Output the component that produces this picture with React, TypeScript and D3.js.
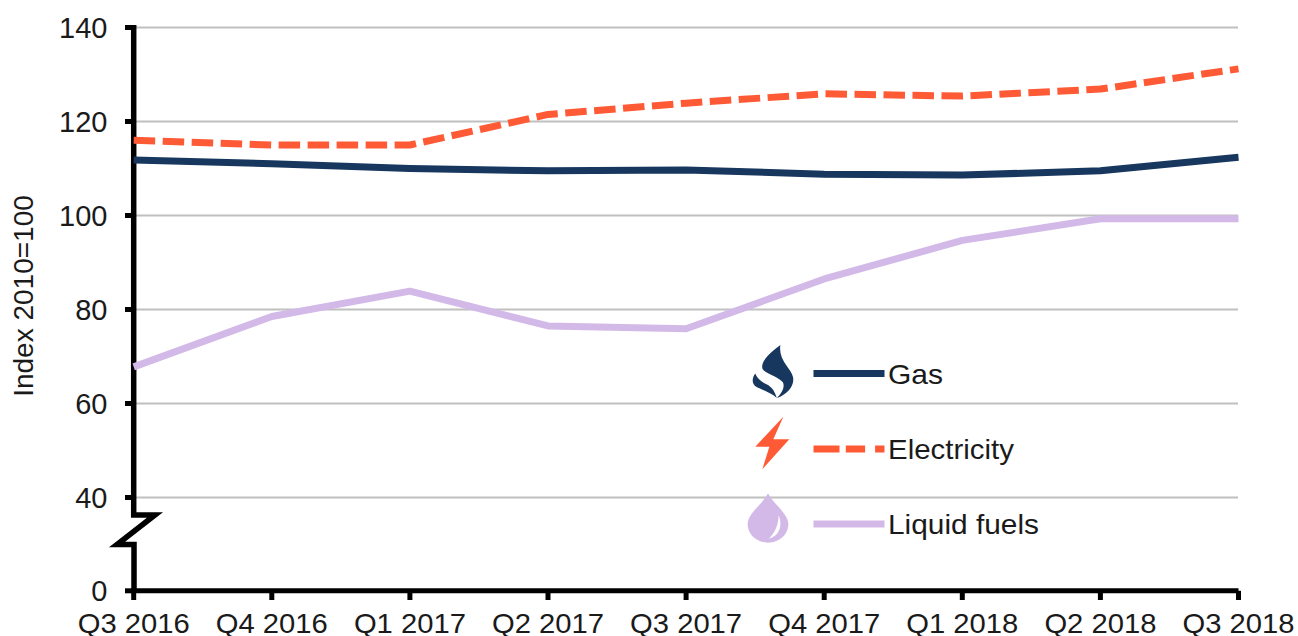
import React from "react";
import * as d3 from "d3";

const quarters = ["Q3 2016","Q4 2016","Q1 2017","Q2 2017","Q3 2017","Q4 2017","Q1 2018","Q2 2018","Q3 2018"];
const gas = [111.8,111.0,110.0,109.5,109.7,108.8,108.6,109.5,112.4];
const electricity = [116.0,115.0,115.0,121.5,123.9,125.9,125.4,126.9,131.2];
const liquidFuels = [67.8,78.5,83.9,76.5,75.9,86.5,94.7,99.3,99.3];
const yTicks = [0,40,60,80,100,120,140];
const gridTicks = [40,60,80,100,120,140];

const NAVY = "#17375e";
const ORANGE = "#ff5a36";
const LILAC = "#d3b9e8";
const FONT = "'Liberation Sans', Arial, sans-serif";
const TEXT = "#1a1a1a";

const x = d3.scalePoint<string>().domain(quarters).range([133.7, 1238.5]);
const y = d3.scaleLinear().domain([0,40,140]).range([590.8,497.5,27.5]);
const line = d3.line<number>().x((_, i) => x(quarters[i]) as number).y(d => y(d));

const series = [
  { name: "Gas", values: gas, color: NAVY, dash: undefined as string | undefined, legendDash: undefined as string | undefined, labelWidth: 55 },
  { name: "Electricity", values: electricity, color: ORANGE, dash: "21.5 7.5", legendDash: "26 6.3 19.3 10 10", labelWidth: 126 },
  { name: "Liquid fuels", values: liquidFuels, color: LILAC, dash: undefined as string | undefined, legendDash: undefined as string | undefined, labelWidth: 151 },
];
const legendY = [373.5, 449, 524];

export default function App() {
  const axisPath = `M${x(quarters[0])},${y(140)-2.5}V515H155L117,544.5H134V${y(0)}`;
  return (
    <svg width={1298} height={636} style={{position:"absolute",left:0,top:0,background:"#fff"}} fontFamily={FONT}>
      {gridTicks.map(t => (
        <line key={t} x1={136} x2={1238} y1={y(t)} y2={y(t)} stroke="#c0c0c0" strokeWidth={2}/>
      ))}
      <path d={axisPath} fill="none" stroke="#000" strokeWidth={5.5} strokeLinejoin="miter" strokeMiterlimit={6}/>
      <line x1={131} x2={1238.5} y1={y(0)} y2={y(0)} stroke="#000" strokeWidth={5}/>
      {yTicks.map(t => (
        <g key={t}>
          <line x1={125} x2={133} y1={y(t)} y2={y(t)} stroke="#000" strokeWidth={5}/>
          <text x={107.5} y={y(t)+10} textAnchor="end" fontSize={29} fill={TEXT}>{t}</text>
        </g>
      ))}
      {quarters.map(q => (
        <g key={q}>
          <line x1={x(q)} x2={x(q)} y1={y(0)} y2={600} stroke="#000" strokeWidth={5}/>
          <text x={x(q)} y={632.5} textAnchor="middle" fontSize={28} fill={TEXT} textLength={112} lengthAdjust="spacingAndGlyphs">{q}</text>
        </g>
      ))}
      <text transform="translate(33,296) rotate(-90)" textAnchor="middle" fontSize={28} fill={TEXT}>Index 2010=100</text>

      {series.map(s => (
        <path key={s.name} d={line(s.values) ?? ""} fill="none" stroke={s.color} strokeWidth={7} strokeDasharray={s.dash} strokeLinejoin="round"/>
      ))}

      {series.map((s, i) => (
        <g key={s.name}>
          <line x1={813.5} x2={884.5} y1={legendY[i]} y2={legendY[i]} stroke={s.color} strokeWidth={7} strokeDasharray={s.legendDash}/>
          <text x={888} y={legendY[i]+10} fontSize={28} fill={TEXT} textLength={s.labelWidth} lengthAdjust="spacingAndGlyphs">{s.name}</text>
        </g>
      ))}

      {/* flame */}
      <g transform="translate(739,340.9) scale(0.36,0.344)" fill={NAVY}>
        <path d="M115 12C85 35 60 60 65 80C70 95 105 100 122 120C128 135 120 150 105 166C135 155 155 130 150 105C145 80 108 55 115 12Z"/>
        <path d="M45 95C35 110 35 125 50 135C70 145 90 152 105 166C100 150 95 135 75 125C60 118 50 108 45 95Z"/>
      </g>
      {/* bolt */}
      <g transform="translate(730,330) scale(0.3333)">
        <path fill={ORANGE} d="M160 260L76 350H118L97 418L178 328H130Z"/>
      </g>
      {/* drop */}
      <g transform="translate(730,330) scale(0.3333)">
        <path fill={LILAC} d="M114 490C100 520 53 550 53 582C53 615 82 638 114 638C146 638 175 615 175 582C175 550 128 520 114 490Z"/>
        <path fill="#fff" d="M146 556C158 585 150 618 116 626C135 610 145 585 146 556Z"/>
      </g>
    </svg>
  );
}
